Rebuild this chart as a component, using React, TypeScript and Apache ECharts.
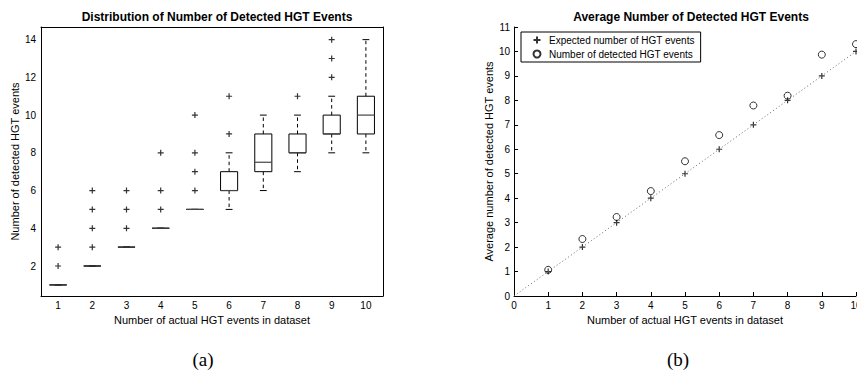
import React, { useEffect, useRef } from "react";
import * as echarts from "echarts";

// ---- Data: (a) boxplot ----
const categories = ["1", "2", "3", "4", "5", "6", "7", "8", "9", "10"];
const lowerWhisker = [1, 2, 3, 4, 5, 5, 6, 7, 8, 8];
const q1Values = [1, 2, 3, 4, 5, 6, 7, 8, 9, 9];
const medianValues = [1, 2, 3, 4, 5, 6, 7.5, 8, 9, 10];
const q3Values = [1, 2, 3, 4, 5, 7, 9, 9, 10, 11];
const upperWhisker = [1, 2, 3, 4, 5, 8, 10, 10, 11, 14];
const outlierValues: number[][] = [
  [2, 3],
  [3, 4, 5, 6],
  [4, 5, 6],
  [5, 6, 8],
  [6, 7, 8, 10],
  [9, 11],
  [],
  [11],
  [12, 13, 14],
  [],
];
const leftYTicks = [2, 4, 6, 8, 10, 12, 14];

// ---- Data: (b) averages ----
const actualCounts = [1, 2, 3, 4, 5, 6, 7, 8, 9, 10];
const expectedCounts = [1, 2, 3, 4, 5, 6, 7, 8, 9, 10];
const detectedAverages = [1.07, 2.33, 3.23, 4.29, 5.51, 6.58, 7.79, 8.19, 9.87, 10.3];
const diagonalEnds = [0, 10];

const FONT = "'Liberation Sans', Arial, Helvetica, sans-serif";
const PLUS = "path://M5,0L5,10M0,5L10,5";

export default function App() {
  const ref = useRef<HTMLDivElement>(null);
  useEffect(() => {
    if (!ref.current) return;
    const chart = echarts.init(ref.current, null, { renderer: "svg" });

    const boxData = categories.map((_, i) => [
      i,
      lowerWhisker[i],
      q1Values[i],
      medianValues[i],
      q3Values[i],
      upperWhisker[i],
    ]);
    const outlierData: number[][] = [];
    outlierValues.forEach((vals, i) => vals.forEach((v) => outlierData.push([i, v])));

    const axisLine = { show: true, lineStyle: { color: "#000", width: 1 } };
    const tickStyle = { color: "#000", width: 1 };
    const labelStyle = { color: "#000", fontSize: 10, fontFamily: FONT };
    const nameStyle = { color: "#000", fontSize: 11, fontFamily: FONT };

    const option: any = {
      animation: false,
      backgroundColor: "#fff",
      title: [
        {
          text: "Distribution of Number of Detected HGT Events",
          left: 212,
          textAlign: "center",
          top: 6,
          textStyle: { fontSize: 12, fontWeight: "bold", fontFamily: FONT, color: "#000" },
        },
        {
          text: "Average Number of Detected HGT Events",
          left: 686,
          textAlign: "center",
          top: 6,
          textStyle: { fontSize: 12, fontWeight: "bold", fontFamily: FONT, color: "#000" },
        },
      ],
      legend: {
        left: 521,
        top: 32,
        orient: "vertical",
        borderColor: "#000",
        borderWidth: 1,
        borderRadius: 0,
        padding: [2, 6, 2, 10],
        itemGap: 2,
        itemWidth: 14,
        itemHeight: 7,
        textStyle: { fontSize: 10, fontFamily: FONT, color: "#000" },
        data: ["Expected number of HGT events", "Number of detected HGT events"],
      },
      grid: [
        { left: 41, top: 27, width: 342, height: 269, outerBoundsMode: "none", containLabel: false },
        { left: 514, top: 27, width: 342, height: 269, outerBoundsMode: "none", containLabel: false },
      ],
      xAxis: [
        {
          gridIndex: 0,
          type: "category",
          data: categories,
          boundaryGap: true,
          axisLine,
          axisTick: { inside: true, alignWithLabel: true, length: 4, lineStyle: tickStyle },
          axisLabel: { ...labelStyle, margin: 4 },
          splitLine: { show: false },
          name: "Number of actual HGT events in dataset",
          nameLocation: "middle",
          nameGap: 13,
          nameTextStyle: nameStyle,
        },
        {
          gridIndex: 0,
          type: "category",
          position: "top",
          data: categories,
          boundaryGap: true,
          axisLine,
          axisTick: { inside: true, alignWithLabel: true, length: 4, lineStyle: tickStyle },
          axisLabel: { show: false },
          splitLine: { show: false },
        },
        {
          gridIndex: 1,
          type: "value",
          min: 0,
          max: 10,
          interval: 1,
          axisLine,
          axisTick: { inside: true, length: 4, lineStyle: tickStyle },
          axisLabel: { ...labelStyle, margin: 4 },
          splitLine: { show: false },
          name: "Number of actual HGT events in dataset",
          nameLocation: "middle",
          nameGap: 13,
          nameTextStyle: nameStyle,
        },
      ],
      yAxis: [
        {
          gridIndex: 0,
          type: "value",
          min: 0.41,
          max: 14.67,
          axisLine,
          axisTick: { inside: true, length: 4, lineStyle: tickStyle, customValues: leftYTicks },
          axisLabel: { ...labelStyle, margin: 5, customValues: leftYTicks },
          splitLine: { show: false },
          name: "Number of detected HGT events",
          nameLocation: "middle",
          nameGap: 15,
          nameTextStyle: nameStyle,
        },
        {
          gridIndex: 0,
          type: "value",
          position: "right",
          min: 0.41,
          max: 14.67,
          axisLine,
          axisTick: { inside: true, length: 4, lineStyle: tickStyle, customValues: leftYTicks },
          axisLabel: { show: false },
          splitLine: { show: false },
        },
        {
          gridIndex: 1,
          type: "value",
          min: 0,
          max: 11,
          interval: 1,
          axisLine,
          axisTick: { inside: true, length: 4, lineStyle: tickStyle },
          axisLabel: { ...labelStyle, margin: 4 },
          splitLine: { show: false },
          name: "Average number of detected HGT events",
          nameLocation: "middle",
          nameGap: 17,
          nameTextStyle: nameStyle,
        },
      ],
      series: [
        {
          type: "custom",
          xAxisIndex: 0,
          yAxisIndex: 0,
          data: boxData,
          encode: { x: 0, y: [1, 2, 3, 4, 5] },
          renderItem: (params: any, api: any) => {
            const idx = api.value(0);
            const lo = api.value(1);
            const q1 = api.value(2);
            const med = api.value(3);
            const q3 = api.value(4);
            const hi = api.value(5);
            const band = api.size([1, 0])[0];
            const hw = band * 0.25;
            const cw = band * 0.1;
            const pLo = api.coord([idx, lo]);
            const pQ1 = api.coord([idx, q1]);
            const pMed = api.coord([idx, med]);
            const pQ3 = api.coord([idx, q3]);
            const pHi = api.coord([idx, hi]);
            const cx = pMed[0];
            const dash = { stroke: "#000", lineWidth: 1, lineDash: [3.5, 3] };
            const solid = { stroke: "#000", lineWidth: 1 };
            const children: any[] = [];
            if (pHi[1] < pQ3[1]) {
              children.push({ type: "line", shape: { x1: cx, y1: pQ3[1], x2: cx, y2: pHi[1] }, style: dash });
            }
            if (pLo[1] > pQ1[1]) {
              children.push({ type: "line", shape: { x1: cx, y1: pQ1[1], x2: cx, y2: pLo[1] }, style: dash });
            }
            children.push({ type: "line", shape: { x1: cx - cw, y1: pHi[1], x2: cx + cw, y2: pHi[1] }, style: solid });
            children.push({ type: "line", shape: { x1: cx - cw, y1: pLo[1], x2: cx + cw, y2: pLo[1] }, style: solid });
            children.push({
              type: "polygon",
              shape: {
                points: [
                  [cx - hw, pQ1[1]],
                  [cx + hw, pQ1[1]],
                  [cx + hw, pQ3[1]],
                  [cx - hw, pQ3[1]],
                ],
              },
              style: { fill: "none", stroke: "#000", lineWidth: 1 },
            });
            children.push({
              type: "line",
              shape: { x1: cx - hw, y1: pMed[1], x2: cx + hw, y2: pMed[1] },
              style: { stroke: "#444", lineWidth: 1.2 },
            });
            return { type: "group", children };
          },
        },
        {
          type: "scatter",
          xAxisIndex: 0,
          yAxisIndex: 0,
          data: outlierData,
          symbol: PLUS,
          symbolSize: 6,
          itemStyle: { color: "none", borderColor: "#000", borderWidth: 1.2 },
        },
        {
          type: "line",
          xAxisIndex: 2,
          yAxisIndex: 2,
          data: [
            [diagonalEnds[0], diagonalEnds[0]],
            [diagonalEnds[1], diagonalEnds[1]],
          ],
          symbol: "none",
          lineStyle: { color: "#666", width: 1, type: [1, 2.5] },
          silent: true,
        },
        {
          name: "Expected number of HGT events",
          type: "scatter",
          xAxisIndex: 2,
          yAxisIndex: 2,
          data: actualCounts.map((x, i) => [x, expectedCounts[i]]),
          symbol: PLUS,
          symbolSize: 6,
          itemStyle: { color: "none", borderColor: "#000", borderWidth: 1.2 },
        },
        {
          name: "Number of detected HGT events",
          type: "scatter",
          xAxisIndex: 2,
          yAxisIndex: 2,
          data: actualCounts.map((x, i) => [x, detectedAverages[i]]),
          symbol: "circle",
          symbolSize: 7,
          itemStyle: { color: "none", borderColor: "#000", borderWidth: 1 },
        },
      ],
      graphic: [
        {
          type: "text",
          x: 203,
          y: 359,
          style: {
            text: "(a)",
            fontSize: 19,
            fontFamily: "'Liberation Serif', 'Times New Roman', serif",
            fill: "#000",
            align: "center",
            verticalAlign: "middle",
          },
        },
        {
          type: "text",
          x: 678,
          y: 359,
          style: {
            text: "(b)",
            fontSize: 19,
            fontFamily: "'Liberation Serif', 'Times New Roman', serif",
            fill: "#000",
            align: "center",
            verticalAlign: "middle",
          },
        },
      ],
    };
    chart.setOption(option);
    return () => chart.dispose();
  }, []);
  return (
    <div
      ref={ref}
      style={{ position: "fixed", left: 0, top: 0, width: 857, height: 373, background: "#fff" }}
    />
  );
}
